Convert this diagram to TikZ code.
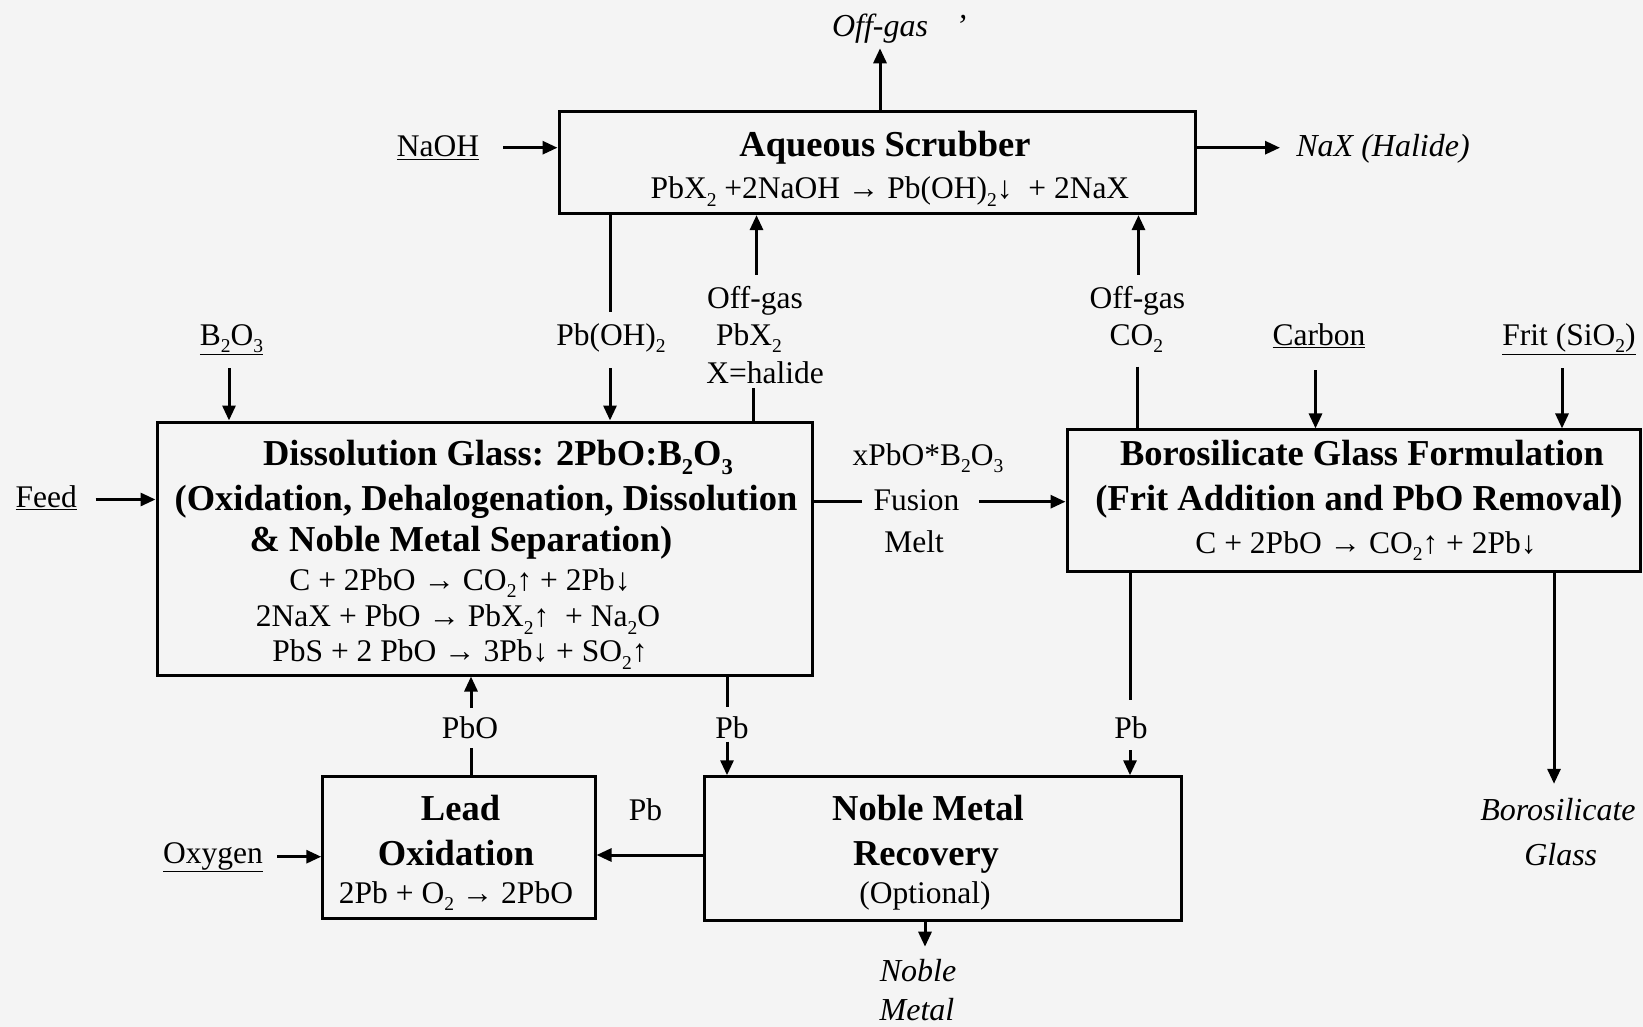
\documentclass[tikz,border=0pt]{standalone}
\usepackage{fontspec}
\setmainfont{Liberation Serif}
\usetikzlibrary{arrows.meta}
\definecolor{bg}{HTML}{F4F4F4}
\newcommand\sbs[1]{\raisebox{-0.25em}{\scalebox{0.62}{#1}}}
\begin{document}
\begin{tikzpicture}[x=1pt,y=-1pt,
  box/.style={draw, line width=3pt, inner sep=0pt},
  ttl/.style={font=\fontsize{36.5}{40}\selectfont\bfseries, inner sep=0pt, anchor=base},
  txt/.style={font=\fontsize{31.5}{36}\selectfont, inner sep=0pt, anchor=base},
  itl/.style={font=\fontsize{32}{36}\selectfont\itshape, inner sep=0pt, anchor=base},
  ln/.style={line width=3pt},
  arr/.style={line width=3pt, -{Triangle[length=15pt,width=13pt]}}]
\fill[bg] (0,0) rectangle (1643,1027);
\useasboundingbox (0,0) rectangle (1643,1027);

% boxes
\node[box, minimum width=636pt, minimum height=102pt] (scrub) at (877,162.6) {};
\node[box, minimum width=655pt, minimum height=253pt] (diss) at (484.5,548.5) {};
\node[box, minimum width=573pt, minimum height=141.7pt] (boro) at (1353.5,500.8) {};
\node[box, minimum width=272.3pt, minimum height=141.3pt] (lead) at (458.9,847.4) {};
\node[box, minimum width=476.5pt, minimum height=143.3pt] (noble) at (942.8,848.4) {};

% box texts
\node[ttl] (sct) at (885,157) {Aqueous Scrubber};
\node[txt] (sce) at (890,198.3) {PbX\sbs{2} +2NaOH → Pb(OH)\sbs{2}↓\ \ + 2NaX};

\node[ttl] (d1) at (498,465) {Dissolution Glass: 2PbO:B\sbs{2}O\sbs{3}};
\node[ttl] (d2) at (486,510) {(Oxidation, Dehalogenation, Dissolution};
\node[ttl] (d3) at (461,551.7) {\& Noble Metal Separation)};
\node[txt] (d4) at (460,590) {C + 2PbO → CO\sbs{2}↑ + 2Pb↓};
\node[txt] (d5) at (458,626.7) {2NaX + PbO → PbX\sbs{2}↑\ \ + Na\sbs{2}O};
\node[txt] (d6) at (460,661.7) {PbS + 2 PbO → 3Pb↓ + SO\sbs{2}↑};

\node[ttl] (b1) at (1362,465) {Borosilicate Glass Formulation};
\node[ttl] (b2) at (1359,510) {(Frit Addition and PbO Removal)};
\node[txt] (b3) at (1366,553) {C + 2PbO → CO\sbs{2}↑ + 2Pb↓};

\node[ttl] (l1) at (460.5,820) {Lead};
\node[ttl] (l2) at (456,865) {Oxidation};
\node[txt] (l3) at (456,903) {2Pb + O\sbs{2} → 2PbO};

\node[ttl] (n1) at (928,820) {Noble Metal};
\node[ttl] (n2) at (926,865) {Recovery};
\node[txt] (n3) at (925,903) {(Optional)};

% labels
\node[itl] (offg) at (880,37) {Off-gas};
\node[itl] (aps) at (961,37) {'};
\node[txt] (naoh) at (438,157) {\underline{NaOH}};
\node[itl] (nax) at (1383,157) {NaX (Halide)};
\node[txt] (poh) at (611,345) {Pb(OH)\sbs{2}};
\node[txt] (og1) at (755,308) {Off-gas};
\node[txt] (og2) at (749,345) {PbX\sbs{2}};
\node[txt] (og3) at (765,383) {X=halide};
\node[txt] (co1) at (1137.4,308) {Off-gas};
\node[txt] (co2) at (1136.3,345) {CO\sbs{2}};
\node[txt] (b2o3) at (231.5,345) {\underline{B\sbs{2}O\sbs{3}}};
\node[txt] (carbon) at (1319,345) {\underline{Carbon}};
\node[txt] (frit) at (1569,345) {\underline{Frit (SiO\sbs{2})}};
\node[txt] (feed) at (46.3,507) {\underline{Feed}};
\node[txt] (fus1) at (928,465) {xPbO*B\sbs{2}O\sbs{3}};
\node[txt] (fus) at (916.5,510.7) {Fusion};
\node[txt] (melt) at (914,552.7) {Melt};
\node[itl] (bg1) at (1558,820) {Borosilicate};
\node[itl] (bg2) at (1560.7,865) {Glass};
\node[txt] (pbr) at (1131,738) {Pb};
\node[txt] (pbd) at (732,738) {Pb};
\node[txt] (pbo) at (470,738) {PbO};
\node[txt] (pbm) at (645.5,820) {Pb};
\node[txt] (oxy) at (213,863) {\underline{Oxygen}};
\node[itl] (nm1) at (918,981.7) {Noble};
\node[itl] (nm2) at (917,1020) {Metal};

% connector end coordinates
\coordinate (offgA) at (880,48.3);
\coordinate (naohA) at (503,147.7);
\coordinate (naxA) at (1280,147.7);
\coordinate (pohA) at (610,311.7);
\coordinate (pohB) at (610,368);
\coordinate (ogA) at (756.5,274.5);
\coordinate (ogB) at (753,388);
\coordinate (coA) at (1138.5,274.5);
\coordinate (coB) at (1137,366.7);
\coordinate (bA) at (229,368);
\coordinate (cA) at (1315.5,370);
\coordinate (fA) at (1562,368);
\coordinate (feA) at (95.7,499.5);
\coordinate (fuA) at (861.7,501.7);
\coordinate (fuB) at (979,501.7);
\coordinate (bgA) at (1554,783.8);
\coordinate (prA) at (1130,700);
\coordinate (prB) at (1130,750);
\coordinate (pdA) at (727,706.7);
\coordinate (pdB) at (727,741.7);
\coordinate (poA) at (471,748);
\coordinate (poB) at (471,708);
\coordinate (nlA) at (650,855);
\coordinate (oxA) at (277,856.7);
\coordinate (noA) at (925,946.7);

% connectors
\draw[arr] (scrub.north -| offgA) -- (offgA);
\draw[arr] (naohA) -- (naohA -| scrub.west);
\draw[arr] (naxA -| scrub.east) -- (naxA);
\draw[ln] (scrub.south -| pohA) -- (pohA);
\draw[arr] (pohB) -- (pohB |- diss.north);
\draw[arr] (ogA) -- (ogA |- scrub.south);
\draw[ln] (ogB) -- (ogB |- diss.north);
\draw[arr] (coA) -- (coA |- scrub.south);
\draw[ln] (coB) -- (coB |- boro.north);
\draw[arr] (bA) -- (bA |- diss.north);
\draw[arr] (cA) -- (cA |- boro.north);
\draw[arr] (fA) -- (fA |- boro.north);
\draw[arr] (feA) -- (feA -| diss.west);
\draw[ln] (fuA -| diss.east) -- (fuA);
\draw[arr] (fuB) -- (fuB -| boro.west);
\draw[arr] (bgA |- boro.south) -- (bgA);
\draw[ln] (prA |- boro.south) -- (prA);
\draw[arr] (prB) -- (prB |- noble.north);
\draw[ln] (pdA |- diss.south) -- (pdA);
\draw[arr] (pdB) -- (pdB |- noble.north);
\draw[ln] (poA |- lead.north) -- (poA);
\draw[arr] (poB) -- (poB |- diss.south);
\draw[arr] (nlA -| noble.west) -- (nlA -| lead.east);
\draw[arr] (oxA) -- (oxA -| lead.west);
\draw[arr] (noA |- noble.south) -- (noA);
\end{tikzpicture}
\end{document}
